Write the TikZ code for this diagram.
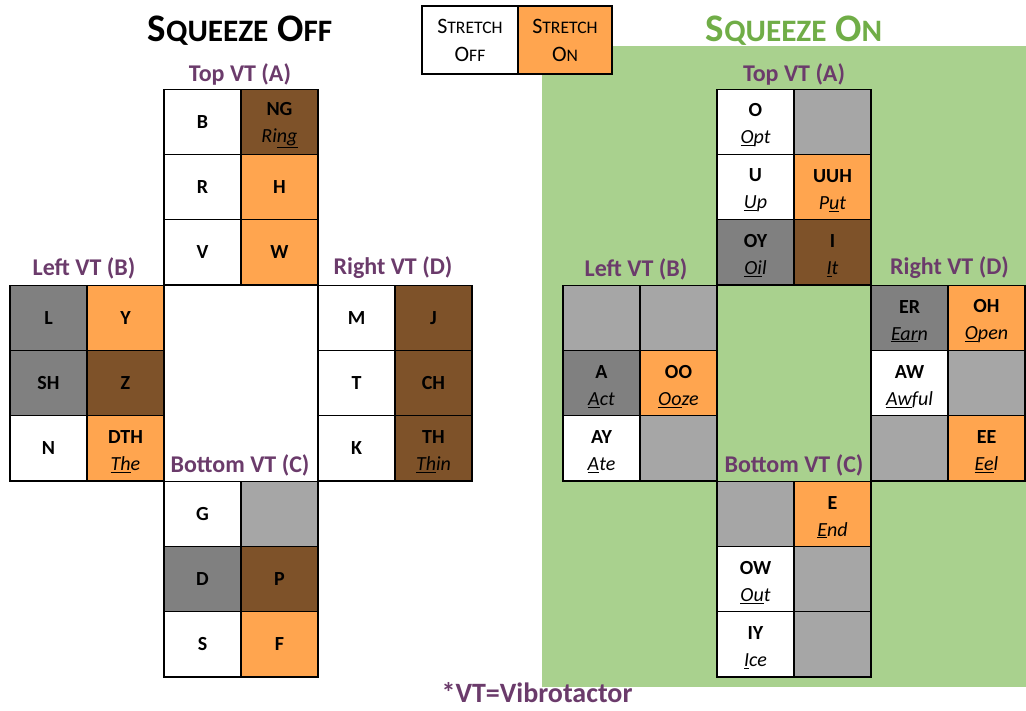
\documentclass[tikz,border=0pt]{standalone}
\usepackage{fontspec}
\setmainfont{Carlito}
\usepackage{xcolor}
\usepackage{tikz}
\usetikzlibrary{positioning}

\definecolor{stretchon}{HTML}{FFA54F}
\definecolor{vtbrown}{HTML}{7E5229}
\definecolor{vtdark}{HTML}{808080}
\definecolor{vtlight}{HTML}{A6A6A6}
\definecolor{squeezebg}{HTML}{A9D18E}
\definecolor{squeezetitle}{HTML}{70AD47}
\definecolor{vtpurple}{HTML}{6B3B6B}

\newcommand{\snd}[2]{\rule{0pt}{20pt}#1\\{\mdseries\itshape #2}}
\newcommand{\lowsc}[1]{\scalebox{0.8}{#1}}

\begin{document}
\begin{tikzpicture}[x=1pt, y=-1pt,
    cell/.style={draw=black, line width=1.1pt, minimum width=77pt, minimum height=65.3pt,
      inner sep=0pt, align=center, font=\fontsize{20}{27}\selectfont\bfseries},
    blank/.style={cell, fill=white},
    oncell/.style={cell, fill=stretchon},
    browncell/.style={cell, fill=vtbrown},
    darkcell/.style={cell, fill=vtdark},
    lightcell/.style={cell, fill=vtlight},
    vtlabel/.style={text=vtpurple, font=\fontsize{24}{27}\selectfont\bfseries},
    bigtitle/.style={font=\fontsize{39}{44}\selectfont\bfseries},
    legendbox/.style={draw=black, line width=1.1pt, minimum height=68pt, inner sep=0pt,
      align=center, font=\fontsize{22}{28}\selectfont}]
    \useasboundingbox (0,0) rectangle (1026,710);
    \fill[squeezebg] (542,46) rectangle (1026,687);

    \node[bigtitle] (offtitle) at (240,31) {S\lowsc{QUEEZE} O\lowsc{FF}};
    \node[bigtitle, text=squeezetitle] (ontitle) at (794,31) {S\lowsc{QUEEZE} O\lowsc{N}};
    \node[legendbox, fill=white, minimum width=96pt] (legoff) at (470,40) {S\lowsc{TRETCH}\\O\lowsc{FF}};
    \node[legendbox, fill=stretchon, minimum width=94pt] (legon) at (565,40) {S\lowsc{TRETCH}\\O\lowsc{N}};

    \node[blank] (offB) at (202.5,121.7) {B};
    \node[browncell] (offNG) at (279.5,121.7) {\snd{NG}{Ri\underline{ng}}};
    \node[blank] (offR) at (202.5,187) {R};
    \node[oncell] (offH) at (279.5,187) {H};
    \node[blank] (offV) at (202.5,252.3) {V};
    \node[oncell] (offW) at (279.5,252.3) {W};
    \node[darkcell] (offL) at (48.5,317.7) {L};
    \node[oncell] (offY) at (125.5,317.7) {Y};
    \node[darkcell] (offSH) at (48.5,383) {SH};
    \node[browncell] (offZ) at (125.5,383) {Z};
    \node[blank] (offN) at (48.5,448.3) {N};
    \node[oncell] (offDTH) at (125.5,448.3) {\snd{DTH}{\underline{Th}e}};
    \node[blank] (offM) at (356.5,317.7) {M};
    \node[browncell] (offJ) at (433.5,317.7) {J};
    \node[blank] (offT) at (356.5,383) {T};
    \node[browncell] (offCH) at (433.5,383) {CH};
    \node[blank] (offK) at (356.5,448.3) {K};
    \node[browncell] (offTH) at (433.5,448.3) {\snd{TH}{\underline{Th}in}};
    \node[blank] (offG) at (202.5,513.7) {G};
    \node[lightcell] (offgap) at (279.5,513.7) {};
    \node[darkcell] (offD) at (202.5,579) {D};
    \node[browncell] (offP) at (279.5,579) {P};
    \node[blank] (offS) at (202.5,644.3) {S};
    \node[oncell] (offF) at (279.5,644.3) {F};

    \node[vtlabel] (offtop) at (240,74) {Top VT (A)};
    \node[vtlabel] (offleft) at (84,268) {Left VT (B)};
    \node[vtlabel] (offright) at (393,268) {Right VT (D)};
    \node[vtlabel] (offbottom) at (240,465) {Bottom VT (C)};

    \node[blank] (onO) at (755.5,121.7) {\snd{O}{\underline{O}pt}};
    \node[lightcell] (ongapA) at (832.5,121.7) {};
    \node[blank] (onU) at (755.5,187) {\snd{U}{\underline{U}p}};
    \node[oncell] (onUUH) at (832.5,187) {\snd{UUH}{P\underline{u}t}};
    \node[darkcell] (onOY) at (755.5,252.3) {\snd{OY}{\underline{Oi}l}};
    \node[browncell] (onI) at (832.5,252.3) {\snd{I}{\underline{I}t}};
    \node[lightcell] (ongapB) at (601.5,317.7) {};
    \node[lightcell] (ongapBB) at (678.5,317.7) {};
    \node[darkcell] (onA) at (601.5,383) {\snd{A}{\underline{A}ct}};
    \node[oncell] (onOO) at (678.5,383) {\snd{OO}{\underline{Oo}ze}};
    \node[blank] (onAY) at (601.5,448.3) {\snd{AY}{\underline{A}te}};
    \node[lightcell] (ongapBBB) at (678.5,448.3) {};
    \node[darkcell] (onER) at (909.5,317.7) {\snd{ER}{\underline{Ear}n}};
    \node[oncell] (onOH) at (986.5,317.7) {\snd{OH}{\underline{O}pen}};
    \node[blank] (onAW) at (909.5,383) {\snd{AW}{\underline{Aw}ful}};
    \node[lightcell] (ongapD) at (986.5,383) {};
    \node[lightcell] (ongapDD) at (909.5,448.3) {};
    \node[oncell] (onEE) at (986.5,448.3) {\snd{EE}{\underline{Ee}l}};
    \node[lightcell] (ongapC) at (755.5,513.7) {};
    \node[oncell] (onE) at (832.5,513.7) {\snd{E}{\underline{E}nd}};
    \node[blank] (onOW) at (755.5,579) {\snd{OW}{\underline{Ou}t}};
    \node[lightcell] (ongapCC) at (832.5,579) {};
    \node[blank] (onIY) at (755.5,644.3) {\snd{IY}{\underline{I}ce}};
    \node[lightcell] (ongapCCC) at (832.5,644.3) {};

    \node[vtlabel] (ontop) at (794,74) {Top VT (A)};
    \node[vtlabel] (onleft) at (636,269) {Left VT (B)};
    \node[vtlabel] (onright) at (949.5,268) {Right VT (D)};
    \node[vtlabel] (onbottom) at (794,465) {Bottom VT (C)};

    \node[vtlabel, anchor=base, inner sep=0pt, font=\fontsize{28}{30}\selectfont\bfseries] (footnote) at (537,702) {*VT=Vibrotactor};
\end{tikzpicture}
\end{document}
